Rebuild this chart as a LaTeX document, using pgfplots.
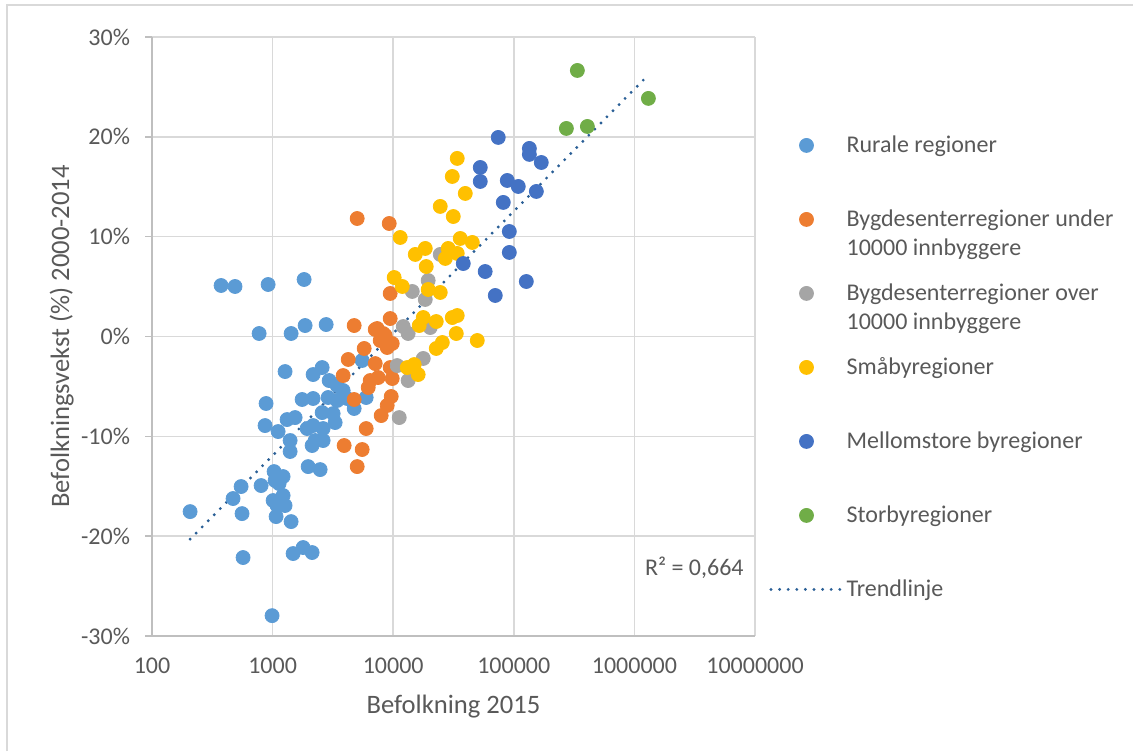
\documentclass[border=0pt]{standalone}
\usepackage{fontspec}
\setmainfont{Carlito}
\usepackage{pgfplots}
\pgfplotsset{compat=1.18}

\definecolor{rural}{HTML}{5B9BD5}
\definecolor{bygdu}{HTML}{ED7D31}
\definecolor{bygdo}{HTML}{A5A5A5}
\definecolor{smaby}{HTML}{FFC000}
\definecolor{mellom}{HTML}{4472C4}
\definecolor{storby}{HTML}{70AD47}
\definecolor{trend}{HTML}{2A5F96}
\definecolor{txt}{HTML}{595959}
\definecolor{gridc}{HTML}{D9D9D9}
\definecolor{axisc}{HTML}{BFBFBF}

% Befolkning 2015 / befolkningsvekst (%) 2000-2014
\pgfplotstableread{
x y
374 5.11
488 5.01
918 5.21
1825 5.71
773 0.30
1424 0.30
1861 1.10
2780 1.20
1269 -3.51
2168 -3.81
2575 -3.11
2944 -4.41
3430 -4.91
3846 -5.41
5531 -2.40
5970 -6.11
4745 -7.21
883 -6.71
1757 -6.31
2168 -6.21
2888 -6.11
3430 -6.41
4150 -6.21
1319 -8.32
1537 -8.12
866 -8.92
1111 -9.52
1397 -10.42
1397 -11.52
1933 -9.22
2168 -8.92
2624 -9.22
3177 -7.72
3300 -8.62
2575 -7.62
2253 -10.42
2624 -10.42
2127 -10.92
207 -17.54
548 -15.03
470 -16.23
558 -17.74
803 -14.93
1029 -13.53
1222 -14.03
1049 -14.43
1132 -14.73
1222 -15.93
1010 -16.43
1089 -16.93
1269 -16.93
1069 -18.04
1424 -18.54
569 -22.14
1479 -21.74
1791 -21.14
2127 -21.64
990 -27.96
1971 -13.03
2479 -13.33
}\rural

\pgfplotstableread{
x y
5028 11.82
9268 11.32
9440 4.31
9440 1.80
4745 1.10
7364 0.80
7095 0.70
8260 0.30
8590 0.10
8260 -0.10
7800 -0.40
9815 -0.70
8917 -1.10
5746 -1.20
4236 -2.30
7095 -2.71
9440 -3.11
3846 -3.91
6444 -4.41
7510 -4.11
6207 -5.11
9815 -4.21
4745 -6.31
9625 -6.01
8917 -6.91
7950 -7.92
5970 -9.22
3920 -10.92
5531 -11.32
5028 -13.03
}\bygdunder

\pgfplotstableread{
x y
24550 8.22
19500 5.61
14390 4.51
18450 3.71
12110 1.00
13300 0.30
20280 0.90
17750 -2.20
10790 -2.91
13300 -4.41
11220 -8.12
}\bygdover

\pgfplotstableread{
x y
33960 17.84
30900 16.03
39600 14.33
24550 13.03
31480 12.02
11430 9.92
15240 8.22
18450 8.82
18790 7.01
28590 8.82
35970 9.82
45290 9.42
27050 7.82
33960 8.32
10190 5.91
11890 5.01
19500 4.71
24550 4.41
17750 1.90
16440 1.10
22750 1.50
30900 1.90
33960 2.10
33350 0.30
49780 -0.40
25550 -0.60
22750 -1.20
13070 -3.11
14930 -2.81
16110 -3.81
}\smaby

\pgfplotstableread{
x y
74300 19.94
134600 18.84
134600 18.24
169000 17.43
52700 16.93
52700 15.53
88300 15.63
108900 15.03
153800 14.53
81800 13.43
91800 10.52
91800 8.42
38100 7.31
57900 6.51
127000 5.51
70200 4.11
}\mellom

\pgfplotstableread{
x y
336500 26.65
1306000 23.85
272900 20.84
407400 21.04
}\storby

\begin{document}
\begin{tikzpicture}
\useasboundingbox (-76pt,-57.5pt) rectangle (490.5pt,318pt);
\draw[gridc, line width=0.75pt] (-72.5pt,-57.5pt) -- (-72.5pt,315.5pt) -- (490.5pt,315.5pt);
\begin{axis}[
    scale only axis,
    width=301.5pt, height=299.5pt,
    at={(0,0)}, anchor=south west,
    xmode=log, log basis x=10,
    xmin=100, xmax=10000000,
    ymin=-30, ymax=30,
    xtick={100,1000,10000,100000,1000000,10000000},
    xticklabels={100,1000,10000,100000,1000000,10000000},
    ytick={-30,-20,...,30},
    yticklabels={-30\%,-20\%,-10\%,0\%,10\%,20\%,30\%},
    minor xtick={}, 
    axis lines=left,
    axis line style={-, axisc, line width=0.75pt},
    grid=major,
    grid style={gridc, line width=0.75pt},
    tick align=outside,
    major tick length=3.5pt,
    ytick style={axisc, line width=0.75pt},
    xtick style={draw=none},
    ticklabel style={font=\fontsize{12}{14.5}\selectfont, text=txt},
    xticklabel style={yshift=-4pt},
    yticklabel style={xshift=-4pt},
    xlabel={Befolkning 2015},
    ylabel={Befolkningsvekst (\%) 2000-2014},
    label style={font=\fontsize{13.3}{16}\selectfont, text=txt},
    xlabel style={at={(axis description cs:0.5,-0.1286)}, anchor=base},
    ylabel style={at={(axis description cs:-0.1376,0.5)}, anchor=base},
    legend cell align=left,
    legend style={
        at={(axis description cs:1.0232,0.8347)}, anchor=north west,
        draw=none, fill=none, inner sep=0pt,
        row sep=0pt, column sep=0pt,
        font=\fontsize{12}{14.5}\selectfont, text=txt,
        nodes={inner xsep=1.5pt, inner ysep=0pt, text height=8pt, text depth=29pt},
    },
    legend image code/.code={
        \draw[mark repeat=2, mark phase=2, #1]
            plot coordinates {(0pt,14pt) (17.75pt,14pt) (35.5pt,14pt)};
    },
    scatter/.style={only marks, mark=*, mark size=3.5pt},
]

\addplot[scatter, rural, mark options={fill=rural, draw=rural}] table {\rural};
\addlegendentry{Rurale regioner}
\addplot[scatter, bygdu, mark options={fill=bygdu, draw=bygdu}] table {\bygdunder};
\addlegendentry{\begin{tabular}[t]{@{}l@{}}Bygdesenterregioner under\\10000 innbyggere\end{tabular}}
\addplot[scatter, bygdo, mark options={fill=bygdo, draw=bygdo}] table {\bygdover};
\addlegendentry{\begin{tabular}[t]{@{}l@{}}Bygdesenterregioner over\\10000 innbyggere\end{tabular}}
\addplot[scatter, smaby, mark options={fill=smaby, draw=smaby}] table {\smaby};
\addlegendentry{Småbyregioner}
\addplot[scatter, mellom, mark options={fill=mellom, draw=mellom}] table {\mellom};
\addlegendentry{Mellomstore byregioner}
\addplot[scatter, storby, mark options={fill=storby, draw=storby}] table {\storby};
\addlegendentry{Storbyregioner}

% trendlinje (logaritmisk)
\addplot[trend, line width=1.6pt, line cap=round, dash pattern=on 0pt off 4.3pt, no marks]
    coordinates {(207,-20.3) (1245000,25.95)};
\addlegendentry{Trendlinje}

\node[anchor=base east, inner sep=0pt, text=txt, font=\fontsize{12}{14.5}\selectfont]
    at (rel axis cs:0.9818,0.1018) {R² = 0,664};
\end{axis}
\end{tikzpicture}
\end{document}
